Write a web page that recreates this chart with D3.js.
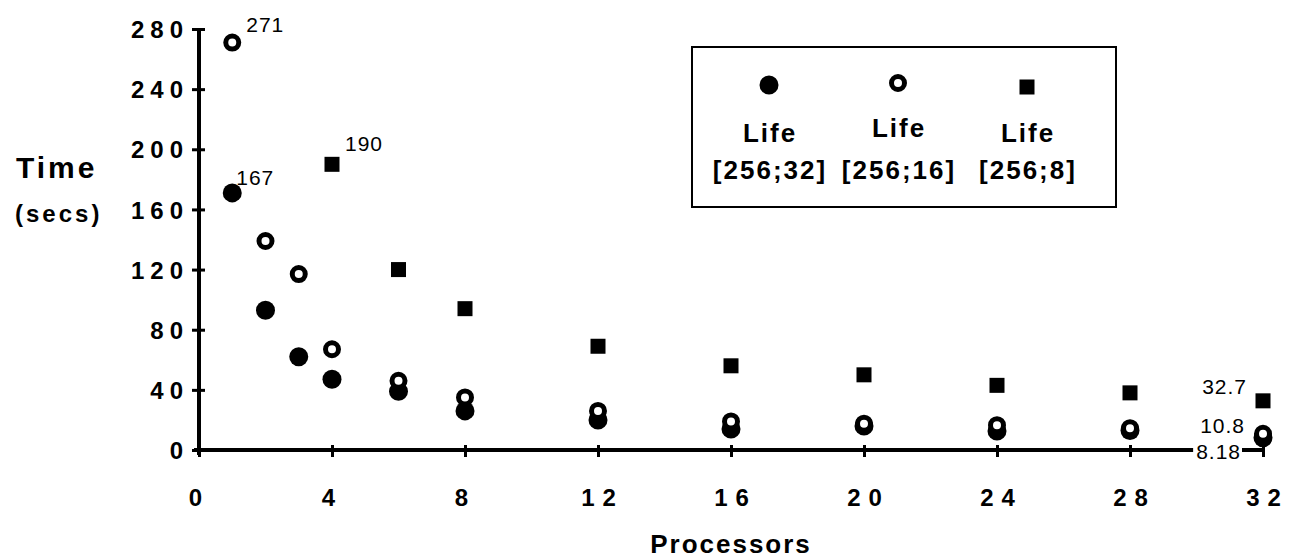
<!DOCTYPE html>
<html>
<head>
<meta charset="utf-8">
<script src="https://cdn.jsdelivr.net/npm/d3@7"></script>
<style>
  html, body { margin: 0; padding: 0; background: #fff; }
  svg { display: block; font-family: "Liberation Sans", Arial, Helvetica, sans-serif; }
</style>
</head>
<body>
<svg id="chart" width="1291" height="558"></svg>
<script>
// ---- data ----
const seriesNames = ["Life [256;32]", "Life [256;16]", "Life [256;8]"];
const legendLine1 = ["Life", "Life", "Life"];
const legendLine2 = ["[256;32]", "[256;16]", "[256;8]"];

const procs32 = [1, 2, 3, 4, 6, 8, 12, 16, 20, 24, 28, 32];
const time32  = [171, 93, 62, 47, 39, 26, 20, 14, 16, 12.6, 13, 8.18];

const procs16 = [1, 2, 3, 4, 6, 8, 12, 16, 20, 24, 28, 32];
const time16  = [271, 139, 117, 67, 46, 35, 26, 19, 17.5, 16.5, 14.5, 10.8];

const procs8  = [4, 6, 8, 12, 16, 20, 24, 28, 32];
const time8   = [190, 120, 94, 69, 56, 50, 43, 38, 32.7];

const xTicks = [0, 4, 8, 12, 16, 20, 24, 28, 32];
const yTicks = [0, 40, 80, 120, 160, 200, 240, 280];

// annotations
const annotations = [
  { x: 1, y: 271, label: "271" },
  { x: 1, y: 171, label: "167" },
  { x: 4, y: 190, label: "190" },
  { x: 32, y: 32.7, label: "32.7" },
  { x: 32, y: 10.8, label: "10.8" },
  { x: 32, y: 0, label: "8.18" }
];
const annOffsets = [[14, -11, "start"], [4, -8, "start"], [13, -13, "start"], [-16, -7, "end"], [-18, -1, "end"], [-22, 9, "end"]];

// ---- layout ----
const svg = d3.select("#chart");
const x = d3.scaleLinear().domain([0, 32]).range([199, 1263]);
const y = d3.scaleLinear().domain([0, 280]).range([450, 29]);

// axes
const yAxis = svg.append("g").attr("transform", `translate(${x(0)},0)`)
  .call(d3.axisLeft(y).tickValues(yTicks).tickSize(6).tickPadding(0).tickFormat(d3.format("d")));
yAxis.attr("font-size", null).attr("font-family", null);
yAxis.select(".domain").attr("d", `M0,${y(280)}V${y(0)+5}`).attr("stroke", "#000").attr("stroke-width", 4);
yAxis.selectAll(".tick line").attr("x1", -7).attr("x2", 6).attr("stroke", "#000").attr("stroke-width", 3);
yAxis.selectAll(".tick text")
  .attr("x", -16).attr("dy", "0.36em")
  .style("font-size", "24px").style("font-weight", "bold").style("letter-spacing", "6px")
  .attr("text-anchor", "end").attr("fill", "#000")
  .attr("dx", 6);

const xAxis = svg.append("g").attr("transform", `translate(0,${y(0)})`)
  .call(d3.axisBottom(x).tickValues(xTicks).tickSize(6).tickPadding(0).tickFormat(d3.format("d")));
xAxis.attr("font-size", null).attr("font-family", null);
xAxis.select(".domain").attr("d", `M${x(0)-5},0H${x(32)+2}`).attr("stroke", "#000").attr("stroke-width", 4);
xAxis.selectAll(".tick line").attr("y1", -5).attr("y2", 7).attr("stroke", "#000").attr("stroke-width", 3);
xAxis.selectAll(".tick text")
  .attr("y", 56).attr("dy", "0")
  .style("font-size", "24px").style("font-weight", "bold").style("letter-spacing", "8px")
  .attr("fill", "#000")
  .attr("dx", d => String(d).length > 1 ? 4 : 0);

// axis titles
svg.append("text").attr("x", 16).attr("y", 178)
  .style("font-size", "30px").style("font-weight", "bold").style("letter-spacing", "3px").text("Time");
svg.append("text").attr("x", 15).attr("y", 222)
  .style("font-size", "24px").style("font-weight", "bold").style("letter-spacing", "3px").text("(secs)");
svg.append("text").attr("x", 731).attr("y", 553).attr("text-anchor", "middle")
  .style("font-size", "26px").style("font-weight", "bold").style("letter-spacing", "2px").text("Processors");

// markers
function drawMarker(g, s, cx, cy) {
  if (s === 0) {
    g.append("circle").attr("cx", cx).attr("cy", cy).attr("r", 9.5).attr("fill", "#000");
  } else if (s === 1) {
    g.append("circle").attr("cx", cx).attr("cy", cy).attr("r", 6.5)
      .attr("fill", "#fff").attr("stroke", "#000").attr("stroke-width", 5);
  } else {
    g.append("rect").attr("x", cx - 7.5).attr("y", cy - 7.5).attr("width", 15).attr("height", 15).attr("fill", "#000");
  }
}

const series = [
  { s: 0, xs: procs32, ys: time32 },
  { s: 1, xs: procs16, ys: time16 },
  { s: 2, xs: procs8, ys: time8 }
];
const marks = svg.append("g");
series.forEach(ser => {
  ser.xs.forEach((p, i) => drawMarker(marks, ser.s, x(p), y(ser.ys[i])));
});

// annotations
annotations.forEach((a, i) => {
  const [dx, dy, anchor] = annOffsets[i];
  const t = svg.append("text").attr("x", x(a.x) + dx).attr("y", y(a.y) + dy)
    .attr("text-anchor", anchor)
    .style("font-size", "21px").style("letter-spacing", "1px").text(a.label);
  if (a.label === "8.18") {
    const bb = t.node().getBBox();
    svg.append("rect").attr("x", bb.x - 3).attr("y", y(0) - 3).attr("width", bb.width + 4).attr("height", 6).attr("fill", "#fff");
    t.raise();
  }
});

// legend
const lg = svg.append("g");
lg.append("rect").attr("x", 692).attr("y", 47).attr("width", 424).attr("height", 160)
  .attr("fill", "#fff").attr("stroke", "#000").attr("stroke-width", 2);
const legX = [769, 898, 1027];
const legMarkY = [85, 83, 87];
const legLifeY = [142, 137, 142];
seriesNames.forEach((n, i) => {
  drawMarker(lg, i, legX[i], legMarkY[i]);
  lg.append("text").attr("x", legX[i] + 1).attr("y", legLifeY[i]).attr("text-anchor", "middle")
    .style("font-size", "26px").style("font-weight", "bold").style("letter-spacing", "2px").text(legendLine1[i]);
  lg.append("text").attr("x", legX[i] + 1).attr("y", 179).attr("text-anchor", "middle")
    .style("font-size", "26px").style("font-weight", "bold").style("letter-spacing", "2px").text(legendLine2[i]);
});
</script>
</body>
</html>
